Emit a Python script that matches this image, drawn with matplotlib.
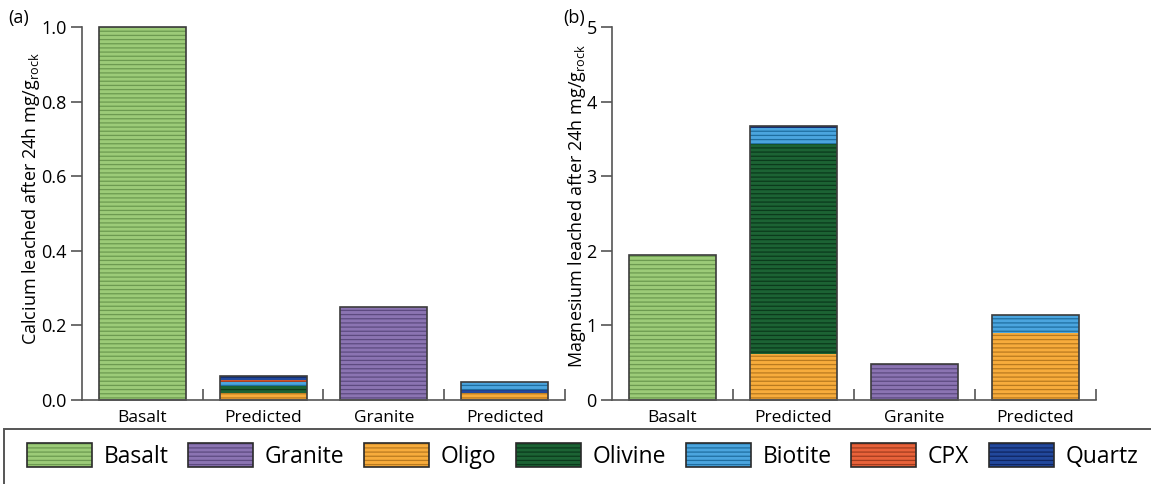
import matplotlib
matplotlib.use("Agg")
import matplotlib.pyplot as plt
from matplotlib.patches import Patch, Rectangle
from matplotlib.ticker import FixedLocator

plt.rcParams["font.family"] = ["Open Sans", "DejaVu Sans"]
plt.rcParams["hatch.linewidth"] = 0.9

# ---- data -------------------------------------------------------------
categories = ["Basalt", "Predicted", "Granite", "Predicted"]
minerals = ["Oligo", "Olivine", "Biotite", "CPX", "Quartz"]

# measured (whole rock) leaching, mg/g_rock after 24 h
ca_basalt, ca_granite = 1.0, 0.25
mg_basalt, mg_granite = 1.95, 0.48

# predicted contributions per mineral, in the order of `minerals`
ca_pred_basalt = [0.018, 0.020, 0.010, 0.005, 0.012]
ca_pred_granite = [0.018, 0.0, 0.021, 0.0, 0.010]
mg_pred_basalt = [0.62, 2.81, 0.22, 0.0, 0.02]
mg_pred_granite = [0.90, 0.0, 0.24, 0.0, 0.0]

# stacking order (bottom -> top) used in the original figure
order_basalt = ["Oligo", "Olivine", "Biotite", "CPX", "Quartz"]
order_granite = ["Oligo", "Quartz", "Biotite", "Olivine", "CPX"]

# ---- style ------------------------------------------------------------
face = {
    "Basalt": "#9ccb78", "Granite": "#8b74b2", "Oligo": "#f7ac3c",
    "Olivine": "#1c6334", "Biotite": "#4ba5de", "CPX": "#e8623a",
    "Quartz": "#22489c",
}
hatchc = {
    "Basalt": "#6c9a50", "Granite": "#5d4a80", "Oligo": "#b97a1f",
    "Olivine": "#0b3a1c", "Biotite": "#1f6ea0", "CPX": "#a23c1e",
    "Quartz": "#0f2560",
}
HATCH = "----"
EDGE = "#3c3c3c"
WIDTH = 0.72
xpos = [1, 2, 3, 4]


def draw_bar(ax, x, parts):
    bottom = 0.0
    for name, val in parts:
        if val <= 0:
            continue
        ax.bar(x, val, WIDTH, bottom=bottom, color=face[name],
               edgecolor=hatchc[name], linewidth=0, hatch=HATCH, clip_on=False)
        bottom += val
    ax.bar(x, bottom, WIDTH, fill=False, edgecolor=EDGE, linewidth=1.2,
           clip_on=False)


def panel(ax, measured_b, measured_g, pred_b, pred_g, ymax, yticks, ylabel,
          fmt, label_xy):
    draw_bar(ax, xpos[0], [("Basalt", measured_b)])
    vb = dict(zip(minerals, pred_b))
    draw_bar(ax, xpos[1], [(m, vb[m]) for m in order_basalt])
    draw_bar(ax, xpos[2], [("Granite", measured_g)])
    vg = dict(zip(minerals, pred_g))
    draw_bar(ax, xpos[3], [(m, vg[m]) for m in order_granite])

    ax.set_xlim(0.5, 4.5)
    ax.set_ylim(0, ymax)
    ax.set_yticks(yticks)
    ax.set_yticklabels([fmt.format(t) for t in yticks])
    ax.set_xticks(xpos)
    ax.set_xticklabels(categories)
    ax.xaxis.set_minor_locator(FixedLocator([1.5, 2.5, 3.5, 4.5]))
    ax.tick_params(axis="x", which="major", length=0, labelsize=12.5, pad=7)
    ax.tick_params(axis="x", which="minor", direction="in", length=8,
                   width=1.2, color="#555555")
    ax.tick_params(axis="y", length=8, width=1.2, color="#555555",
                   labelsize=13, pad=3)
    for s in ("top", "right"):
        ax.spines[s].set_visible(False)
    for s in ("left", "bottom"):
        ax.spines[s].set_color("#555555")
        ax.spines[s].set_linewidth(1.2)
    ax.set_ylabel(ylabel, fontsize=13)
    ax.yaxis.set_label_coords(*label_xy)


fig = plt.figure(figsize=(11.51, 4.84), dpi=100)
ax1 = fig.add_axes([0.0712, 0.1736, 0.4197, 0.7706])
ax2 = fig.add_axes([0.5317, 0.1736, 0.4205, 0.7706])

panel(ax1, ca_basalt, ca_granite, ca_pred_basalt, ca_pred_granite, 1.0,
      [0, 0.2, 0.4, 0.6, 0.8, 1.0],
      "Calcium leached after 24h mg/g$_{\\mathregular{rock}}$", "{:.1f}",
      (-0.083, 0.54))
panel(ax2, mg_basalt, mg_granite, mg_pred_basalt, mg_pred_granite, 5,
      [0, 1, 2, 3, 4, 5],
      "Magnesium leached after 24h mg/g$_{\\mathregular{rock}}$", "{:g}",
      (-0.05, 0.52))

fig.text(0.007, 0.962, "(a)", fontsize=13, va="center")
fig.text(0.489, 0.962, "(b)", fontsize=13, va="center")

# legend box spanning the full width, cut by the figure edge
fig.patches.append(Rectangle((4 / 1151, -0.05), 1.0, 0.05 + 55 / 484,
                             transform=fig.transFigure, fill=False,
                             edgecolor="#555555", linewidth=1.4))

legend_names = ["Basalt", "Granite"] + minerals
handles = [(Patch(facecolor=face[n], edgecolor=hatchc[n], hatch=HATCH,
                  linewidth=0),
            Patch(fill=False, edgecolor="#2a2a2a", linewidth=1.2))
           for n in legend_names]
leg = fig.legend(handles, legend_names, loc="center left", ncol=7,
                 bbox_to_anchor=(27 / 1151, 1 - 456 / 484),
                 fontsize=16.5, handlelength=2.85, handleheight=1.22,
                 handletextpad=0.5, columnspacing=0.85, borderpad=0,
                 borderaxespad=0, frameon=False)

fig.savefig("out.png", dpi=100)
